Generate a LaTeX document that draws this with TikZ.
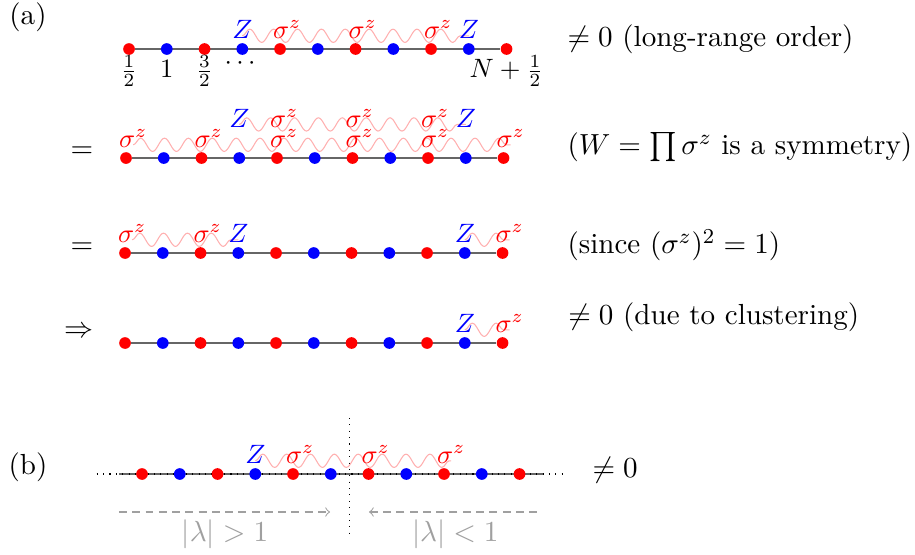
\documentclass[tikz,border=0pt,11pt]{standalone}
\usepackage{amsmath}
\usepackage{amssymb}
\usetikzlibrary{decorations.pathmorphing,backgrounds}
\definecolor{welleRot}{HTML}{FFB0B0}
\definecolor{ketteGrau}{HTML}{666666}
\definecolor{hellGrau}{HTML}{A0A0A0}

% one row of 11 sites, red on half-integer, blue on integer sites
\newcommand{\spinkette}[3]{%
  \foreach \i in {0,2,...,10}
    \node[rotSpin] (#1\i) at ({#2+0.5*\i},#3) {};
  \foreach \i in {1,3,...,9}
    \node[blauSpin] (#1\i) at ({#2+0.5*\i},#3) {};
}

\begin{document}
\begin{tikzpicture}[
  rotSpin/.style={circle,fill=red,inner sep=0pt,minimum size=4.4pt},
  blauSpin/.style={circle,fill=blue,inner sep=0pt,minimum size=4.4pt},
  kette/.style={draw=ketteGrau,line width=0.7pt},
  welle/.style={draw=welleRot,line width=0.4pt,decorate,
    decoration={snake,amplitude=2.5pt,segment length=9pt}},
  zop/.style={blue,font=\small,anchor=base,inner sep=0pt},
  sop/.style={red,font=\small,anchor=base,inner sep=0pt,xshift=2.7pt},
  platz/.style={font=\small,anchor=base,inner sep=0pt},
  txt/.style={anchor=base west,inner sep=0pt},
  pfeil/.style={hellGrau,dash pattern=on 3pt off 2pt,->}
]
\useasboundingbox (0,0) rectangle (12.119,-7.338);

% (a) -------------------------------------------------------
\node (lblA) at (0.371,-0.225) {(a)};

\spinkette{a}{1.709}{-0.649}
\spinkette{b}{1.669}{-2.093}
\spinkette{c}{1.656}{-3.351}
\spinkette{d}{1.656}{-4.543}

% row a
\node[zop] (aZl) at ([yshift=1.4mm]a3) {$Z$};
\node[zop] (aZr) at ([yshift=1.4mm]a9) {$Z$};
\foreach \i in {4,6,8}
  \node[sop] (aS\i) at ([yshift=1.4mm]a\i) {$\sigma^z$};
\node[platz] (aL0) at ([yshift=-3.8mm]a0) {$\frac12$};
\node[platz] (aL1) at ([yshift=-3.8mm]a1) {$1$};
\node[platz] (aL2) at ([yshift=-3.8mm]a2) {$\frac32$};
\node[font=\small,inner sep=0pt] (aDots) at ([yshift=-1.9mm]a3) {$\cdots$};
\node[platz] (aLN) at ([yshift=-3.8mm]a10) {$N+\frac12$};

% row b
\node[zop] (bZl) at ([yshift=4.1mm]b3) {$Z$};
\node[zop] (bZr) at ([yshift=4.1mm]b9) {$Z$};
\foreach \i in {4,6,8}
  \node[sop] (bT\i) at ([yshift=4.1mm]b\i) {$\sigma^z$};
\foreach \i in {0,2,...,10}
  \node[sop] (bS\i) at ([yshift=1.4mm]b\i) {$\sigma^z$};

% row c
\node[sop] (cS0) at ([yshift=1.4mm]c0) {$\sigma^z$};
\node[sop] (cS2) at ([yshift=1.4mm]c2) {$\sigma^z$};
\node[zop] (cZl) at ([yshift=1.4mm]c3) {$Z$};
\node[zop] (cZr) at ([yshift=1.4mm]c9) {$Z$};
\node[sop] (cS10) at ([yshift=1.4mm]c10) {$\sigma^z$};

% row d
\node[zop] (dZr) at ([yshift=1.4mm]d9) {$Z$};
\node[sop] (dS10) at ([yshift=1.4mm]d10) {$\sigma^z$};

\node (eq1) at (1.086,-2.013) {$=$};
\node (eq2) at (1.086,-3.285) {$=$};
\node (folgt) at (1.046,-4.397) {$\Rightarrow$};

\node[txt] (tA) at (7.51,-0.62) {$\neq 0$ (long-range order)};
\node[txt] (tB) at (7.51,-2.05) {($W=\prod\sigma^z$ is a symmetry)};
\node[txt] (tC) at (7.51,-3.36) {(since $(\sigma^z)^2=1$)};
\node[txt] (tD) at (7.52,-4.30) {$\neq 0$ (due to clustering)};

% (b) -------------------------------------------------------
\node (lblB) at (0.371,-6.185) {(b)};
\spinkette{e}{1.881}{-6.278}
\node[zop] (eZl) at ([yshift=1.4mm]e3) {$Z$};
\foreach \i in {4,6,8}
  \node[sop] (eS\i) at ([yshift=1.4mm]e\i) {$\sigma^z$};
\coordinate (eA) at ([xshift=-3mm]e0);
\coordinate (eB) at ([xshift=3.1mm]e10);
\coordinate (eL) at ([xshift=-6mm]e0);
\coordinate (eR) at ([xshift=6mm]e10);
\node[txt] (tE) at (7.841,-6.318) {$\neq 0$};

\coordinate (mOben) at (4.631,-5.536);
\coordinate (mUnten) at (4.631,-7.086);
\draw[dotted] (mOben) -- (mUnten);

\coordinate (pL1) at (1.576,-6.781);
\coordinate (pL2) at (4.371,-6.781);
\coordinate (pR1) at (7.113,-6.781);
\coordinate (pR2) at (4.887,-6.781);
\draw[pfeil] (pL1) -- (pL2);
\draw[pfeil] (pR1) -- (pR2);
\node[hellGrau] (lamG) at (2.98,-7.07) {$|\lambda|>1$};
\node[hellGrau] (lamK) at (6.03,-7.07) {$|\lambda|<1$};

% lines and waves behind the sites
\begin{scope}[on background layer]
  \draw[kette] (a0) -- (a10);
  \draw[kette] (b0) -- (b10);
  \draw[kette] (c0) -- (c10);
  \draw[kette] (d0) -- (d10);
  \draw[kette] (eA) -- (eB);
  \draw[dotted] (eL) -- (eR);
  \draw[welle] ([yshift=1pt]aZl.base) -- ([yshift=1pt]aZr.base);
  \draw[welle] ([yshift=1pt]bZl.base) -- ([yshift=1pt]bZr.base);
  \draw[welle] ([yshift=1pt]bS0.base) -- ([yshift=1pt]bS10.base);
  \draw[welle] ([yshift=1pt]cS0.base) -- ([yshift=1pt]cZl.base);
  \draw[welle] ([yshift=1pt]cZr.base) -- ([yshift=1pt]cS10.base);
  \draw[welle] ([yshift=1pt]dZr.base) -- ([yshift=1pt]dS10.base);
  \draw[welle] ([yshift=1pt]eZl.base) -- ([yshift=1pt]eS8.base);
\end{scope}
\end{tikzpicture}
\end{document}
